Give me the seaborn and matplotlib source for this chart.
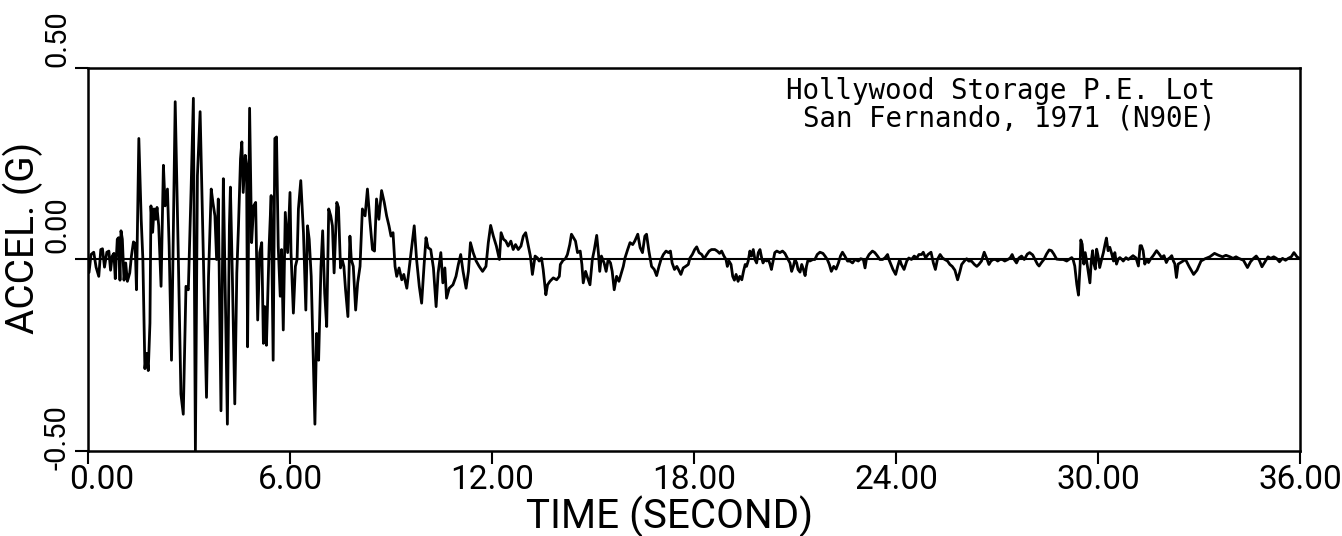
import numpy as np
import pandas as pd
import seaborn as sns
import matplotlib
matplotlib.use("Agg")
import matplotlib.pyplot as plt
from matplotlib.transforms import blended_transform_factory, ScaledTranslation

# Accelerogram samples (time in seconds, acceleration in g), grouped by stretch of record
t_0_3 = [0.03, 0.09, 0.17, 0.24, 0.32, 0.38, 0.43, 0.49, 0.56, 0.62,
         0.67, 0.72, 0.77, 0.81, 0.87, 0.91, 0.95, 0.98, 1.02, 1.07,
         1.12, 1.17, 1.24, 1.29, 1.35, 1.40, 1.44, 1.51, 1.58, 1.63,
         1.69, 1.74, 1.79, 1.84, 1.87, 1.92, 1.96, 2.01, 2.05, 2.10,
         2.17, 2.24, 2.29, 2.36, 2.41, 2.48, 2.59]
a_0_3 = [-0.034, 0.013, 0.019, -0.020, -0.044, 0.026, 0.028, -0.020, 0.019, 0.022,
         -0.028, 0.009, 0.016, -0.050, 0.053, 0.057, -0.054, 0.075, 0.053, -0.054,
         -0.009, -0.057, -0.035, 0.009, 0.046, 0.042, -0.079, 0.316, 0.105, 0.000,
         -0.285, -0.245, -0.290, -0.166, 0.140, 0.071, 0.132, 0.105, 0.136, 0.088,
         -0.070, 0.246, 0.140, 0.184, 0.035, -0.263, 0.412]

t_3_6 = [2.68, 2.76, 2.83, 2.91, 2.98, 3.06, 3.13, 3.19, 3.25, 3.33,
         3.43, 3.52, 3.58, 3.66, 3.71, 3.77, 3.82, 3.87, 3.95, 4.02,
         4.07, 4.14, 4.20, 4.23, 4.29, 4.36, 4.42, 4.47, 4.53, 4.57,
         4.61, 4.67, 4.71, 4.74, 4.80, 4.86, 4.92, 4.98, 5.04, 5.10,
         5.16, 5.21, 5.25, 5.30, 5.38, 5.44, 5.50, 5.55, 5.60, 5.65,
         5.71, 5.75, 5.80, 5.86, 5.93, 6.00]
a_3_6 = [0.018, -0.351, -0.404, -0.070, -0.079, 0.175, 0.421, -0.500, 0.219, 0.386,
         0.000, -0.360, -0.044, 0.184, 0.149, 0.114, 0.000, 0.158, -0.395, 0.211,
         -0.044, -0.430, 0.088, 0.189, -0.053, -0.377, -0.035, 0.088, 0.263, 0.307,
         0.175, 0.272, 0.246, -0.228, 0.395, 0.044, 0.140, 0.149, -0.158, 0.018,
         0.044, -0.219, -0.123, -0.224, 0.035, 0.167, -0.263, 0.316, 0.320, 0.035,
         -0.096, 0.026, -0.184, 0.123, 0.018, 0.175]

t_6_9 = [6.03, 6.10, 6.16, 6.21, 6.25, 6.32, 6.40, 6.47, 6.52, 6.57,
         6.63, 6.68, 6.74, 6.79, 6.85, 6.92, 6.97, 7.03, 7.09, 7.15,
         7.21, 7.26, 7.31, 7.39, 7.44, 7.50, 7.55, 7.60, 7.65, 7.72,
         7.78, 7.82, 7.88, 7.95, 8.01, 8.08, 8.15, 8.23, 8.30, 8.37,
         8.45, 8.51, 8.57, 8.64, 8.72, 8.80, 8.87, 8.94, 9.00, 9.06,
         9.12, 9.17, 9.24, 9.32]
a_6_9 = [0.018, -0.140, -0.018, 0.000, 0.132, 0.206, 0.070, -0.132, 0.088, 0.053,
         -0.044, -0.219, -0.430, -0.193, -0.263, -0.018, 0.075, -0.088, -0.175, 0.132,
         0.114, 0.088, -0.035, 0.149, 0.136, -0.022, 0.000, -0.018, -0.079, -0.149,
         0.061, 0.000, -0.018, -0.132, -0.061, -0.018, 0.132, 0.114, 0.184, 0.105,
         0.026, 0.022, 0.158, 0.105, 0.180, 0.149, 0.114, 0.088, 0.061, 0.070,
         -0.018, -0.044, -0.022, -0.053]

t_9_14 = [9.38, 9.47, 9.57, 9.69, 9.76, 9.84, 9.91, 9.98, 10.04, 10.10,
          10.18, 10.26, 10.34, 10.40, 10.48, 10.54, 10.60, 10.65, 10.73, 10.84,
          10.93, 11.00, 11.07, 11.14, 11.23, 11.30, 11.36, 11.44, 11.53, 11.62,
          11.72, 11.82, 11.89, 11.96, 12.04, 12.13, 12.22, 12.27, 12.34, 12.41,
          12.48, 12.56, 12.63, 12.70, 12.78, 12.86, 12.93, 13.00, 13.08, 13.14,
          13.20, 13.28, 13.35, 13.40, 13.47, 13.52, 13.60, 13.65, 13.72, 13.82,
          13.92, 14.00]
a_9_14 = [-0.039, -0.075, 0.000, 0.088, 0.000, -0.070, -0.114, -0.018, 0.057, 0.031,
          0.026, -0.022, -0.123, -0.035, 0.018, -0.061, -0.022, -0.101, -0.075, -0.066,
          -0.044, -0.013, 0.013, -0.031, -0.075, -0.031, 0.044, 0.018, -0.004, -0.018,
          -0.031, -0.018, 0.044, 0.089, 0.061, 0.035, 0.000, 0.070, 0.053, 0.048,
          0.035, 0.048, 0.026, 0.039, 0.026, 0.035, 0.061, 0.070, 0.035, 0.009,
          -0.039, 0.009, 0.004, -0.004, 0.004, -0.026, -0.092, -0.066, -0.057, -0.048,
          -0.053, -0.044]

t_14_19 = [14.03, 14.11, 14.18, 14.24, 14.31, 14.36, 14.42, 14.48, 14.54, 14.62,
           14.67, 14.71, 14.78, 14.84, 14.91, 14.98, 15.04, 15.11, 15.16, 15.20,
           15.25, 15.33, 15.39, 15.45, 15.52, 15.57, 15.63, 15.70, 15.77, 15.83,
           15.90, 15.95, 16.03, 16.10, 16.18, 16.24, 16.33, 16.40, 16.47, 16.54,
           16.59, 16.66, 16.74, 16.82, 16.89, 16.96, 17.02, 17.09, 17.17, 17.24,
           17.30, 17.35, 17.42, 17.49, 17.55, 17.61, 17.68, 17.75, 17.83, 17.88,
           17.95, 18.02, 18.08, 18.15, 18.23, 18.30, 18.38, 18.45, 18.52]
a_14_19 = [-0.013, -0.002, 0.002, 0.013, 0.039, 0.066, 0.057, 0.048, 0.018, 0.022,
           -0.013, -0.061, -0.031, -0.048, -0.066, 0.000, 0.026, 0.063, 0.018, -0.031,
           0.009, -0.009, -0.031, 0.000, -0.009, -0.031, -0.079, -0.044, -0.057, -0.039,
           -0.018, 0.004, 0.026, 0.044, 0.039, 0.048, 0.066, 0.031, 0.018, 0.061,
           0.066, 0.022, -0.018, -0.026, -0.042, -0.018, 0.000, 0.013, 0.022, 0.018,
           0.022, -0.009, -0.026, -0.018, -0.028, -0.039, -0.022, -0.018, -0.013, 0.004,
           0.013, 0.026, 0.033, 0.018, 0.013, 0.002, 0.013, 0.022, 0.026]

t_19_23 = [18.62, 18.69, 18.76, 18.82, 18.89, 18.95, 18.99, 19.04, 19.10, 19.15,
           19.20, 19.25, 19.31, 19.36, 19.42, 19.47, 19.52, 19.56, 19.61, 19.66,
           19.71, 19.76, 19.81, 19.86, 19.91, 19.96, 20.01, 20.05, 20.11, 20.16,
           20.21, 20.26, 20.30, 20.35, 20.40, 20.46, 20.55, 20.63, 20.70, 20.77,
           20.85, 20.90, 20.95, 21.00, 21.05, 21.09, 21.15, 21.20, 21.25, 21.30,
           21.34, 21.39, 21.44, 21.53, 21.59, 21.66, 21.74, 21.83, 21.89, 21.96,
           22.02, 22.08, 22.15, 22.22, 22.29, 22.35, 22.41, 22.48, 22.56, 22.63,
           22.71, 22.78, 22.88, 22.95, 23.03, 23.08, 23.12, 23.20]
a_19_23 = [0.026, 0.022, 0.016, 0.022, 0.009, 0.000, -0.018, -0.004, -0.013, -0.044,
           -0.054, -0.039, -0.057, -0.044, -0.053, -0.031, -0.013, -0.018, -0.004, 0.022,
           0.009, 0.026, 0.000, -0.009, 0.018, 0.026, 0.004, -0.009, 0.000, -0.004,
           0.000, -0.013, -0.026, -0.004, 0.018, 0.022, 0.018, 0.022, 0.016, 0.004,
           -0.009, -0.031, -0.018, 0.000, -0.009, -0.026, -0.033, -0.013, -0.026, -0.042,
           -0.018, 0.000, -0.004, 0.000, 0.000, 0.013, 0.019, 0.016, 0.009, 0.000,
           -0.013, -0.031, -0.018, -0.025, -0.009, 0.009, 0.019, 0.009, -0.004, -0.004,
           -0.009, 0.000, -0.004, 0.002, 0.000, -0.022, 0.000, 0.013]

t_23_28 = [23.30, 23.37, 23.45, 23.52, 23.60, 23.67, 23.75, 23.79, 23.85, 23.91,
           23.99, 24.05, 24.11, 24.16, 24.24, 24.32, 24.38, 24.46, 24.54, 24.62,
           24.68, 24.76, 24.81, 24.88, 24.95, 25.04, 25.11, 25.17, 25.23, 25.31,
           25.38, 25.45, 25.53, 25.60, 25.67, 25.75, 25.83, 25.90, 25.95, 26.03,
           26.10, 26.16, 26.24, 26.33, 26.40, 26.46, 26.54, 26.62, 26.69, 26.76,
           26.82, 26.89, 26.96, 27.02, 27.09, 27.16, 27.23, 27.32, 27.39, 27.45,
           27.51, 27.58, 27.65, 27.73, 27.81]
a_23_28 = [0.022, 0.018, 0.009, 0.000, 0.000, 0.004, 0.013, 0.000, -0.013, -0.026,
           -0.039, -0.018, 0.000, -0.013, -0.026, -0.004, 0.004, 0.000, 0.009, 0.004,
           0.013, 0.013, 0.019, 0.004, 0.013, 0.019, -0.009, -0.026, 0.000, 0.013,
           0.004, 0.000, -0.004, -0.013, -0.018, -0.028, -0.053, -0.031, -0.013, -0.004,
           0.002, -0.004, -0.004, -0.013, -0.018, -0.013, -0.004, 0.019, 0.004, -0.013,
           -0.004, 0.000, 0.000, -0.004, 0.000, 0.000, -0.004, 0.000, 0.004, 0.013,
           0.000, -0.009, 0.004, 0.009, 0.000]

t_28_33 = [27.90, 27.97, 28.06, 28.13, 28.20, 28.25, 28.32, 28.40, 28.47, 28.55,
           28.62, 28.69, 28.77, 28.87, 28.97, 29.07, 29.15, 29.22, 29.26, 29.31,
           29.37, 29.42, 29.47, 29.49, 29.53, 29.58, 29.62, 29.67, 29.71, 29.76,
           29.80, 29.84, 29.88, 29.92, 29.96, 30.00, 30.05, 30.11, 30.16, 30.21,
           30.25, 30.30, 30.35, 30.41, 30.46, 30.50, 30.55, 30.60, 30.65, 30.70,
           30.75, 30.83, 30.90, 30.97, 31.04, 31.13, 31.20, 31.25, 31.29, 31.34,
           31.39, 31.45, 31.50, 31.56, 31.64, 31.74, 31.82, 31.89, 31.96, 32.03,
           32.08, 32.14, 32.19, 32.24, 32.28, 32.33, 32.38]
a_28_33 = [0.014, 0.018, 0.012, 0.000, -0.012, -0.017, -0.008, 0.001, 0.014, 0.025,
           0.023, 0.014, 0.001, 0.000, 0.000, -0.004, 0.001, 0.005, 0.000, -0.017,
           -0.065, -0.093, -0.012, 0.051, 0.040, -0.012, 0.018, -0.008, -0.032, -0.061,
           -0.004, 0.023, -0.012, -0.025, 0.027, 0.010, -0.021, 0.001, 0.018, 0.040,
           0.056, 0.023, 0.032, 0.014, -0.004, 0.018, -0.012, 0.001, 0.005, 0.001,
           -0.004, 0.005, 0.000, 0.005, 0.010, 0.004, -0.017, 0.036, 0.036, 0.023,
           -0.012, 0.001, -0.008, 0.001, 0.010, 0.023, 0.014, 0.005, 0.010, -0.008,
           0.001, 0.005, 0.010, -0.004, -0.011, -0.047, -0.012]

t_33_36 = [32.60, 32.71, 32.84, 32.94, 33.06, 33.18, 33.32, 33.46, 33.58, 33.70,
           33.80, 33.92, 34.01, 34.10, 34.18, 34.32, 34.44, 34.53, 34.62, 34.70,
           34.79, 34.87, 34.96, 35.05, 35.13, 35.22, 35.30, 35.39, 35.48, 35.57,
           35.65, 35.74, 35.82, 35.91, 36.00]
a_33_36 = [0.000, -0.019, -0.039, -0.028, -0.004, 0.002, 0.007, 0.016, 0.011, 0.007,
           0.011, 0.007, 0.003, 0.007, 0.003, -0.002, -0.021, -0.006, 0.003, 0.009,
           -0.002, -0.019, -0.006, 0.007, 0.003, 0.007, 0.003, -0.006, 0.003, -0.002,
           0.003, 0.007, 0.018, 0.007, 0.002]

x_ticks = [0, 6, 12, 18, 24, 30, 36]
x_tick_labels = ["0.00", "6.00", "12.00", "18.00", "24.00", "30.00", "36.00"]
y_ticks = [-0.5, 0.0, 0.5]
y_tick_labels = ["-0.50", "0.00", "0.50"]
station_lines = ["Hollywood Storage P.E. Lot", "San Fernando, 1971 (N90E)"]

time_s = np.concatenate([t_0_3, t_3_6, t_6_9, t_9_14, t_14_19,
                         t_19_23, t_23_28, t_28_33, t_33_36])
accel_g = np.concatenate([a_0_3, a_3_6, a_6_9, a_9_14, a_14_19,
                          a_19_23, a_23_28, a_28_33, a_33_36])
record = pd.DataFrame({"time": time_s, "accel": accel_g})

sns.set_theme(style="white")
plt.rcParams["font.family"] = ["Roboto", "DejaVu Sans"]
plt.rcParams["text.color"] = "black"

W, H = 1342, 536
fig = plt.figure(figsize=(W / 100, H / 100), dpi=100)
ax = fig.add_axes([88 / W, 85 / H, 1212 / W, 383 / H])

sns.lineplot(data=record, x="time", y="accel", ax=ax, color="black",
             linewidth=2.0, estimator=None, sort=False)
ax.axhline(0.0, color="black", linewidth=1.5, zorder=1)

ax.set_xlim(0, 36)
ax.set_ylim(-0.5, 0.5)
for side in ax.spines.values():
    side.set_color("black")
    side.set_linewidth(1.8)

ax.set_xticks(x_ticks)
ax.set_xticklabels(x_tick_labels, fontsize=24)
ax.set_yticks(y_ticks)
ax.set_yticklabels([])
ax.tick_params(axis="both", direction="out", length=9.5, width=1.5,
               color="black", bottom=True, left=True, top=False, right=False,
               pad=0, labelcolor="black")
# the first time label sits a little to the right of its tick
first_lab = ax.get_xticklabels()[0]
first_lab.set_transform(first_lab.get_transform()
                        + ScaledTranslation(0.14, 0, fig.dpi_scale_trans))

# rotated value labels on the acceleration axis, each starting at its tick
ytrans = blended_transform_factory(ax.transAxes, ax.transData)
y_label_starts = [-0.55, 0.017, 0.503]
for lab, ypos in zip(y_tick_labels, y_label_starts):
    ax.text(-0.0255, ypos, lab, transform=ytrans, rotation=90,
            rotation_mode="anchor", ha="left", va="center",
            fontsize=21, color="black", clip_on=False)

ax.set_xlabel("TIME (SECOND)", fontsize=29, color="black")
ax.xaxis.set_label_coords(0.48, -0.1175)
ax.set_ylabel("ACCEL. (G)", fontsize=28, color="black")
ax.yaxis.set_label_coords(-0.0375, 0.556)

ax.text(0.93, 0.976, "\n".join(station_lines), transform=ax.transAxes,
        ha="right", va="top", multialignment="right", linespacing=1.0,
        fontsize=19.8, family="DejaVu Sans Mono", color="black")

fig.savefig("out.png", dpi=100, facecolor="white")
